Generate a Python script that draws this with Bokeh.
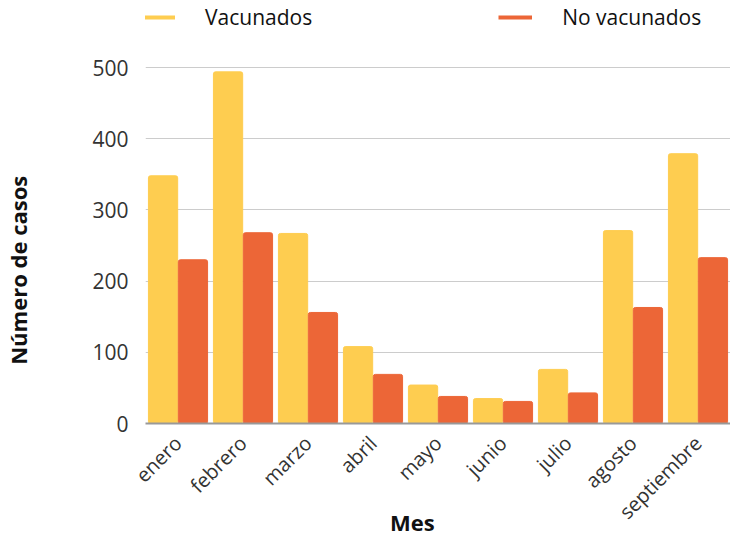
from bokeh.plotting import figure
from bokeh.models import FactorRange, Range1d, FixedTicker, Legend, LegendItem, ColumnDataSource
from bokeh.transform import dodge
from bokeh.embed import file_html
from bokeh.resources import INLINE
import math

months = ["enero", "febrero", "marzo", "abril", "mayo", "junio", "julio", "agosto", "septiembre"]
vacunados = [348, 494, 267, 108, 54, 35, 76, 271, 379]
no_vacunados = [230, 268, 156, 69, 38, 31, 43, 163, 233]
y_ticks = [0, 100, 200, 300, 400, 500]

YELLOW = "#FECD50"
ORANGE = "#EC6637"
FONT = "Open Sans"
NBSP = "\u00a0"

src = ColumnDataSource(dict(month=months, vac=vacunados, novac=no_vacunados))

p = figure(frame_width=585, frame_height=415, x_range=FactorRange(*months, range_padding=0),
           y_range=Range1d(0, 583), output_backend="svg", toolbar_location=None,
           min_border_left=145, min_border_right=0, min_border_top=8, min_border_bottom=0)
p.outline_line_color = None

p.vbar(x=dodge("month", -0.23, range=p.x_range), top="vac", width=0.45, source=src,
       fill_color=YELLOW, line_color=YELLOW, border_radius=2)
p.vbar(x=dodge("month", 0.23, range=p.x_range), top="novac", width=0.45, source=src,
       fill_color=ORANGE, line_color=ORANGE, border_radius=2)

# legend proxies (outside the visible range)
l1 = p.line(x=[months[0], months[1]], y=[-50, -50], line_color=YELLOW, line_width=4)
l2 = p.line(x=[months[0], months[1]], y=[-50, -50], line_color=ORANGE, line_width=4)

legend = Legend(items=[LegendItem(label="Vacunados", renderers=[l1]),
                       LegendItem(label="No vacunados", renderers=[l2])],
                orientation="horizontal", location=(-4, 392), padding=0, margin=0,
                spacing=186, glyph_width=34, label_standoff=30,
                label_text_font=FONT, label_text_font_size="21px", label_text_color="#111111",
                border_line_color=None, background_fill_alpha=0)
p.add_layout(legend, "center")

p.yaxis.ticker = FixedTicker(ticks=y_ticks)
p.yaxis.axis_line_color = None
p.yaxis.major_tick_line_color = None
p.yaxis.minor_tick_line_color = None
p.yaxis.major_label_text_font = FONT
p.yaxis.major_label_text_font_size = "21px"
p.yaxis.major_label_text_color = "#333333"
p.yaxis.major_label_standoff = 11
p.yaxis.axis_label = "Número de casos" + NBSP * 19
p.yaxis.axis_label_text_font = FONT
p.yaxis.axis_label_text_font_style = "bold"
p.yaxis.axis_label_text_font_size = "22px"
p.yaxis.axis_label_text_color = "#111111"
p.yaxis.axis_label_standoff = 56

p.xaxis.axis_line_color = "#999999"
p.xaxis.axis_line_width = 2
p.xaxis.major_tick_line_color = None
p.xaxis.minor_tick_line_color = None
p.xaxis.major_label_orientation = math.pi / 4
p.xaxis.major_label_text_font = FONT
p.xaxis.major_label_text_font_size = "20px"
p.xaxis.major_label_text_color = "#333333"
p.xaxis.major_label_standoff = 10
p.xaxis.axis_label = "Mes" + NBSP * 9
p.xaxis.axis_label_text_font = FONT
p.xaxis.axis_label_text_font_style = "bold"
p.xaxis.axis_label_text_font_size = "22px"
p.xaxis.axis_label_text_color = "#111111"
p.xaxis.axis_label_standoff = -30

p.xgrid.grid_line_color = None
p.ygrid.grid_line_color = "#cccccc"
p.ygrid.grid_line_width = 1

open("out.html", "w").write(file_html(p, INLINE))
